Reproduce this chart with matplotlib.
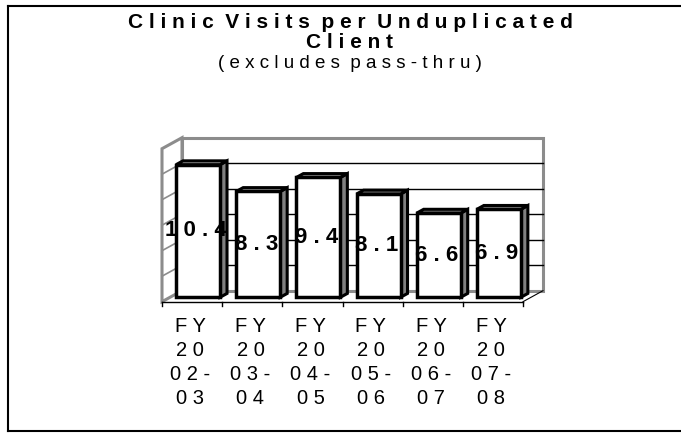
import matplotlib
matplotlib.use('Agg')
import matplotlib.pyplot as plt
from matplotlib.patches import Polygon
from matplotlib.lines import Line2D

plt.rcParams['font.family'] = ['Liberation Sans', 'DejaVu Sans']

title_lines = ["Clinic Visits per Unduplicated", "Client"]
subtitle = "(excludes pass-thru)"
tick_labels = ["FY\n20\n02-\n03", "FY\n20\n03-\n04", "FY\n20\n04-\n05",
               "FY\n20\n05-\n06", "FY\n20\n06-\n07", "FY\n20\n07-\n08"]
values = [10.4, 8.3, 9.4, 8.1, 6.6, 6.9]
y_max = 12
grid_step = 2


def spaced(s):
    # old chart export puts a space between every letter
    out = []
    for line in s.split('\n'):
        out.append('  '.join(' '.join(w) for w in line.split(' ')))
    return '\n'.join(out)


W, H = 681, 433
fig = plt.figure(figsize=(W / 100, H / 100), dpi=100)
ax = fig.add_axes([162 / W, (H - 301.7) / H, 361 / W, 153 / H])
n = len(values)
ax.set_xlim(-0.5, n - 0.5)
ax.set_ylim(0, y_max)
ax.axis('off')

px_x = 361 / n
px_y = 153 / y_max
ddx, ddy = 20 / px_x, 11 / px_y   # depth of the 3d box in data units
wall = '#8c8c8c'

# back wall and side wall
xl, xr = -0.5, n - 0.5
ax.add_patch(Polygon([(xl + ddx, ddy), (xr + ddx, ddy), (xr + ddx, y_max + ddy), (xl + ddx, y_max + ddy)],
                     closed=True, facecolor='white', edgecolor=wall, lw=2.2, clip_on=False, zorder=1))
ax.add_patch(Polygon([(xl, 0), (xl + ddx, ddy), (xl + ddx, y_max + ddy), (xl, y_max)],
                     closed=True, facecolor='white', edgecolor=wall, lw=2.2, clip_on=False, zorder=1))
for g in range(grid_step, y_max, grid_step):
    ax.plot([xl + ddx, xr + ddx], [g + ddy, g + ddy], color='black', lw=1, clip_on=False, zorder=2)
    ax.plot([xl, xl + ddx], [g, g + ddy], color=wall, lw=1.2, clip_on=False, zorder=2)

# floor edges and ticks
ax.plot([xl, xr], [0, 0], color='black', lw=1, clip_on=False, zorder=2)
ax.plot([xr, xr + ddx], [0, ddy], color='black', lw=0.8, clip_on=False, zorder=2)
tick_len = 4 / px_y
for k in range(n + 1):
    ax.plot([k - 0.5, k - 0.5], [0, -tick_len], color='black', lw=1, clip_on=False, zorder=2)

# bars
f = 0.4      # where the bar front sits in the depth
bd = 0.35    # bar depth
bw = 44 / px_x
for i, v in enumerate(values):
    x0 = i - 0.4 + f * ddx
    x1 = x0 + bw
    y0 = f * ddy
    y1 = y0 + v
    ox, oy = bd * ddx, bd * ddy
    ax.add_patch(Polygon([(x1, y0), (x1 + ox, y0 + oy), (x1 + ox, y1 + oy), (x1, y1)],
                         closed=True, facecolor='#808080', edgecolor='black', lw=2.2,
                         joinstyle='miter', clip_on=False, zorder=3))
    ax.add_patch(Polygon([(x0, y1), (x1, y1), (x1 + ox, y1 + oy), (x0 + ox, y1 + oy)],
                         closed=True, facecolor='#a6a6a6', edgecolor='black', lw=2.2,
                         joinstyle='miter', clip_on=False, zorder=3))
    ax.add_patch(Polygon([(x0, y0), (x1, y0), (x1, y1), (x0, y1)],
                         closed=True, facecolor='white', edgecolor='black', lw=2.5,
                         joinstyle='miter', clip_on=False, zorder=4))
    ax.text((x0 + x1) / 2 - 0.03, y0 + v / 2, spaced(f"{v:.1f}"), ha='center', va='center',
            fontsize=16, fontweight='bold', zorder=5, clip_on=False)

for i, lab in enumerate(tick_labels):
    ax.text(i - 0.03, -1.22, spaced(lab), ha='center', va='top', fontsize=14.5,
            linespacing=1.33, clip_on=False)

# titles
fig.text(350 / W, 1 - 22 / H, spaced(title_lines[0]), ha='center', va='center',
         fontsize=15, fontweight='bold')
fig.text(350 / W, 1 - 42.5 / H, spaced(title_lines[1]), ha='center', va='center',
         fontsize=15, fontweight='bold')
fig.text(350 / W, 1 - 63 / H, spaced(subtitle), ha='center', va='center', fontsize=13.5)

# frame around the chart
for xs, ys in [([8, 8], [6, 431]), ([8, W], [6, 6]), ([8, W], [431, 431])]:
    fig.add_artist(Line2D([x / W for x in xs], [1 - y / H for y in ys],
                          color='black', lw=1.5, transform=fig.transFigure))

fig.savefig('out.png', dpi=100)
